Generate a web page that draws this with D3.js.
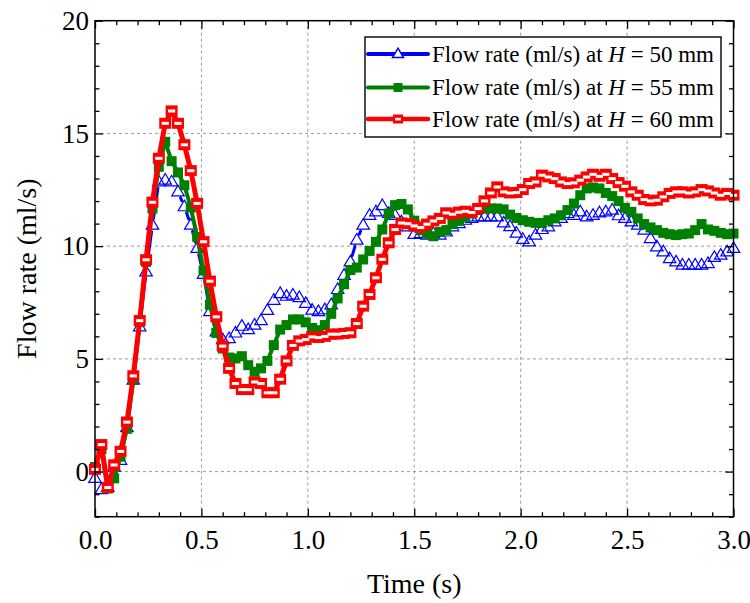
<!DOCTYPE html>
<html>
<head>
<meta charset="utf-8">
<script src="https://cdn.jsdelivr.net/npm/d3@7"></script>
<style>
  html, body { margin: 0; padding: 0; background: #fff; }
  svg { display: block; font-family: "Liberation Serif", "Times New Roman", serif; }
</style>
</head>
<body>
<svg id="chart" width="750" height="603"></svg>
<script>
// ---------------- DATA ----------------
// sampling every 0.03 s from 0 to 3.0 s (101 samples)
const time = d3.range(0, 101).map(i => +(i * 0.03).toFixed(2));

const flowH50 = [
  -0.3, -0.8, -0.7, 0.2, 0.5, 1.95, 4.06, 6.42, 8.86, 10.93,
  12.85, 12.93, 12.85, 12.41, 11.75, 10.93, 9.9, 8.75, 7.1, 6.2,
  5.85, 5.9, 6.15, 6.45, 6.3, 6.5, 6.7, 7.15, 7.6, 7.9,
  7.78, 7.83, 7.72, 7.46, 7.16, 7.1, 7.18, 7.4, 8.08, 8.71,
  9.3, 10.27, 10.93, 11.37, 11.52, 11.8, 11.45, 11.37, 11.08, 10.86,
  10.52, 10.56, 10.49, 10.56, 10.49, 10.63, 10.86, 11.0, 11.15, 11.23,
  11.3, 11.3, 11.3, 11.3, 11.03, 10.87, 10.58, 10.3, 10.19, 10.49,
  10.74, 10.86, 11.08, 11.23, 11.45, 11.37, 11.52, 11.3, 11.37, 11.48,
  11.52, 11.6, 11.35, 11.23, 11.08, 10.93, 10.71, 10.34, 9.97, 9.75,
  9.45, 9.3, 9.16, 9.16, 9.16, 9.16, 9.23, 9.5, 9.6, 9.75,
  9.9
];

const flowH55 = [
  0.2, 1.0, -0.75, -0.3, 0.66, 1.9, 4.06, 6.64, 9.3, 11.67,
  13.52, 14.63, 13.77, 13.27, 12.7, 11.71, 10.41, 8.92, 7.4, 6.15,
  5.46, 5.06, 5.02, 5.12, 4.72, 4.43, 4.58, 4.91, 5.61, 6.3,
  6.5, 6.75, 6.75, 6.62, 6.37, 6.27, 6.5, 7.0, 7.68, 8.31,
  8.94, 9.05, 9.41, 9.79, 10.19, 10.74, 11.45, 11.82, 11.87, 11.63,
  11.13, 10.71, 10.56, 10.44, 10.63, 10.71, 10.98, 11.12, 11.3, 11.45,
  11.6, 11.67, 11.67, 11.67, 11.63, 11.4, 11.25, 11.15, 11.08, 11.03,
  11.03, 11.15, 11.23, 11.37, 11.6, 11.89, 12.26, 12.56, 12.6, 12.56,
  12.36, 12.22, 12.0, 11.7, 11.52, 11.23, 10.98, 10.83, 10.71, 10.59,
  10.53, 10.49, 10.53, 10.56, 10.71, 10.98, 10.74, 10.68, 10.59, 10.53,
  10.56
];

const flowH60 = [
  0.1, 1.2, -0.7, 0.3, 0.9, 2.2, 4.25, 6.7, 9.4, 11.95,
  13.9, 15.45, 16.0, 15.45, 14.5, 13.35, 11.9, 10.2, 8.45, 6.87,
  5.57, 4.58, 3.91, 3.64, 3.64, 3.98, 3.91, 3.5, 3.5, 4.1,
  4.91, 5.6, 5.8, 5.86, 5.98, 5.95, 6.0, 6.1, 6.1, 6.13,
  6.16, 6.57, 7.34, 7.86, 8.6, 9.42, 10.15, 10.74, 11.03, 11.0,
  10.9, 10.83, 10.98, 11.12, 11.23, 11.48, 11.42, 11.51, 11.55, 11.5,
  11.67, 12.01, 12.36, 12.63, 12.41, 12.36, 12.38, 12.51, 12.78, 12.85,
  13.15, 13.07, 13.0, 12.85, 12.78, 12.81, 12.93, 13.07, 13.19, 13.1,
  13.19, 13.0, 12.82, 12.66, 12.41, 12.26, 12.07, 12.01, 12.04, 12.19,
  12.34, 12.41, 12.41, 12.36, 12.41, 12.51, 12.45, 12.36, 12.26, 12.34,
  12.26
];

const xMajorTicks = [0.0, 0.5, 1.0, 1.5, 2.0, 2.5, 3.0];
const yMajorTicks = [0, 5, 10, 15, 20];
const seriesNames = ["50", "55", "60"];
const xTitle = "Time (s)";
const yTitle = "Flow rate (ml/s)";

// ---------------- LAYOUT ----------------
const svg = d3.select("#chart");
const L = 95, R = 733.5, T = 20.7, B = 516.7;
const x = d3.scaleLinear().domain([0, 3]).range([L, R]);
const y = d3.scaleLinear().domain([-2, 20]).range([B, T]);
const FONT = "Liberation Serif";

// grid
const grid = svg.append("g").attr("stroke", "#9a9a9a").attr("stroke-width", 1).attr("stroke-dasharray", "3,3");
xMajorTicks.filter(d => d > 0 && d < 3).forEach(d => {
  grid.append("line").attr("x1", x(d)).attr("x2", x(d)).attr("y1", T).attr("y2", B);
});
yMajorTicks.filter(d => d > -2 && d < 20).forEach(d => {
  grid.append("line").attr("x1", L).attr("x2", R).attr("y1", y(d)).attr("y2", y(d));
});

// ---------------- SERIES ----------------
const colors = { b: "#0000ff", g: "#008000", r: "#ff0000" };

function gapSegments(g, vals, color, width, gap) {
  const pts = vals.map((v, i) => [x(time[i]), y(v)]);
  for (let i = 0; i < pts.length - 1; i++) {
    const [x0, y0] = pts[i], [x1, y1] = pts[i + 1];
    const dx = x1 - x0, dy = y1 - y0, d = Math.hypot(dx, dy);
    if (d <= 2 * gap) continue;
    const ux = dx / d, uy = dy / d;
    g.append("line")
      .attr("x1", x0 + ux * gap).attr("y1", y0 + uy * gap)
      .attr("x2", x1 - ux * gap).attr("y2", y1 - uy * gap)
      .attr("stroke", color).attr("stroke-width", width).attr("stroke-linecap", "round");
  }
}

const triPath = (cx, cy, s) => {
  const h = s * 0.85;
  return `M${cx},${cy - h * 0.62}L${cx + s / 2},${cy + h * 0.38}L${cx - s / 2},${cy + h * 0.38}Z`;
};

// blue: hollow triangles
const gB = svg.append("g");
gapSegments(gB, flowH50, colors.b, 3, 6.5);
gB.selectAll("path.tri").data(flowH50).enter().append("path")
  .attr("d", (v, i) => triPath(x(time[i]), y(v), 12.5))
  .attr("fill", "none").attr("stroke", colors.b).attr("stroke-width", 1.2);

// green: filled squares
const gG = svg.append("g");
gapSegments(gG, flowH55, colors.g, 4, 5);
gG.selectAll("rect").data(flowH55).enter().append("rect")
  .attr("x", (v, i) => x(time[i]) - 5).attr("y", v => y(v) - 5)
  .attr("width", 10).attr("height", 10).attr("fill", colors.g);

// red: line + squares with white bar
const gR = svg.append("g");
gR.append("path").datum(flowH60)
  .attr("d", d3.line().x((v, i) => x(time[i])).y(v => y(v)))
  .attr("fill", "none").attr("stroke", colors.r).attr("stroke-width", 5).attr("stroke-linejoin", "round");
gR.selectAll("rect.m").data(flowH60).enter().append("rect")
  .attr("x", (v, i) => x(time[i]) - 6).attr("y", v => y(v) - 5.5)
  .attr("width", 12).attr("height", 11).attr("fill", colors.r);
gR.selectAll("rect.w").data(flowH60).enter().append("rect")
  .attr("x", (v, i) => x(time[i]) - 3.6).attr("y", v => y(v) - 1.4)
  .attr("width", 7.2).attr("height", 3).attr("fill", "#fff");

// ---------------- AXES ----------------
const xMinor = d3.range(0, 31).map(i => i / 10).filter(d => Math.abs(d * 2 - Math.round(d * 2)) > 1e-6);
const yMinor = d3.range(-2, 21).filter(d => d % 5 !== 0);

function styleAxis(g) {
  g.select(".domain").remove();
  g.selectAll(".tick line").attr("stroke", "#000").attr("stroke-width", 1.3);
  g.selectAll(".tick text").attr("font-family", FONT).attr("font-size", 27).attr("fill", "#000");
}

svg.append("g").attr("transform", `translate(0,${B})`)
  .call(d3.axisBottom(x).tickValues(xMajorTicks).tickSize(-8).tickPadding(13).tickFormat(d3.format(".1f"))).call(styleAxis);
svg.append("g").attr("transform", `translate(0,${B})`)
  .call(d3.axisBottom(x).tickValues(xMinor).tickSize(-4.5).tickFormat("")).call(styleAxis);
svg.append("g").attr("transform", `translate(0,${T})`)
  .call(d3.axisTop(x).tickValues(xMajorTicks).tickSize(-8).tickFormat("")).call(styleAxis);
svg.append("g").attr("transform", `translate(0,${T})`)
  .call(d3.axisTop(x).tickValues(xMinor).tickSize(-4.5).tickFormat("")).call(styleAxis);

svg.append("g").attr("transform", `translate(${L},0)`)
  .call(d3.axisLeft(y).tickValues(yMajorTicks).tickSize(-8).tickPadding(6).tickFormat(d3.format("d"))).call(styleAxis);
svg.append("g").attr("transform", `translate(${L},0)`)
  .call(d3.axisLeft(y).tickValues(yMinor).tickSize(-4.5).tickFormat("")).call(styleAxis);
svg.append("g").attr("transform", `translate(${R},0)`)
  .call(d3.axisRight(y).tickValues(yMajorTicks).tickSize(-8).tickFormat("")).call(styleAxis);
svg.append("g").attr("transform", `translate(${R},0)`)
  .call(d3.axisRight(y).tickValues(yMinor).tickSize(-4.5).tickFormat("")).call(styleAxis);

// frame
svg.append("rect").attr("x", L).attr("y", T).attr("width", R - L).attr("height", B - T)
  .attr("fill", "none").attr("stroke", "#000").attr("stroke-width", 1.5);

// axis titles
svg.append("text").attr("x", (L + R) / 2).attr("y", 593).attr("text-anchor", "middle")
  .attr("font-family", FONT).attr("font-size", 28).text(xTitle);
svg.append("text").attr("transform", `translate(36,${(T + B) / 2}) rotate(-90)`).attr("text-anchor", "middle")
  .attr("font-family", FONT).attr("font-size", 28).text(yTitle);

// ---------------- LEGEND ----------------
const lg = svg.append("g");
lg.append("rect").attr("x", 365).attr("y", 37).attr("width", 356).attr("height", 100)
  .attr("fill", "#fff").attr("stroke", "#000").attr("stroke-width", 1.4);
const rows = [
  { c: colors.b, m: "tri", w: 4, name: seriesNames[0], y: 54 },
  { c: colors.g, m: "sq", w: 4, name: seriesNames[1], y: 87.5 },
  { c: colors.r, m: "osq", w: 4.5, name: seriesNames[2], y: 119 }
];
rows.forEach(r => {
  lg.append("line").attr("x1", 368).attr("x2", 428).attr("y1", r.y).attr("y2", r.y)
    .attr("stroke", r.c).attr("stroke-width", r.w).attr("stroke-linecap", "round");
  const cx = 398;
  if (r.m === "tri") {
    lg.append("path").attr("d", triPath(cx, r.y, 11)).attr("fill", "#fff").attr("stroke", r.c).attr("stroke-width", 1.5);
  } else if (r.m === "sq") {
    lg.append("rect").attr("x", cx - 4.5).attr("y", r.y - 4.5).attr("width", 9).attr("height", 9).attr("fill", r.c);
  } else {
    lg.append("rect").attr("x", cx - 5).attr("y", r.y - 4.5).attr("width", 10).attr("height", 9).attr("fill", r.c);
    lg.append("rect").attr("x", cx - 3).attr("y", r.y - 1.2).attr("width", 6).attr("height", 2.6).attr("fill", "#fff");
  }
  const t = lg.append("text").attr("x", 432).attr("y", r.y + 7.5)
    .attr("font-family", FONT).attr("font-size", 23).attr("fill", "#000");
  t.append("tspan").text("Flow rate (ml/s) at ");
  t.append("tspan").attr("font-style", "italic").text("H");
  t.append("tspan").text(" = " + r.name + " mm");
});
</script>
</body>
</html>
